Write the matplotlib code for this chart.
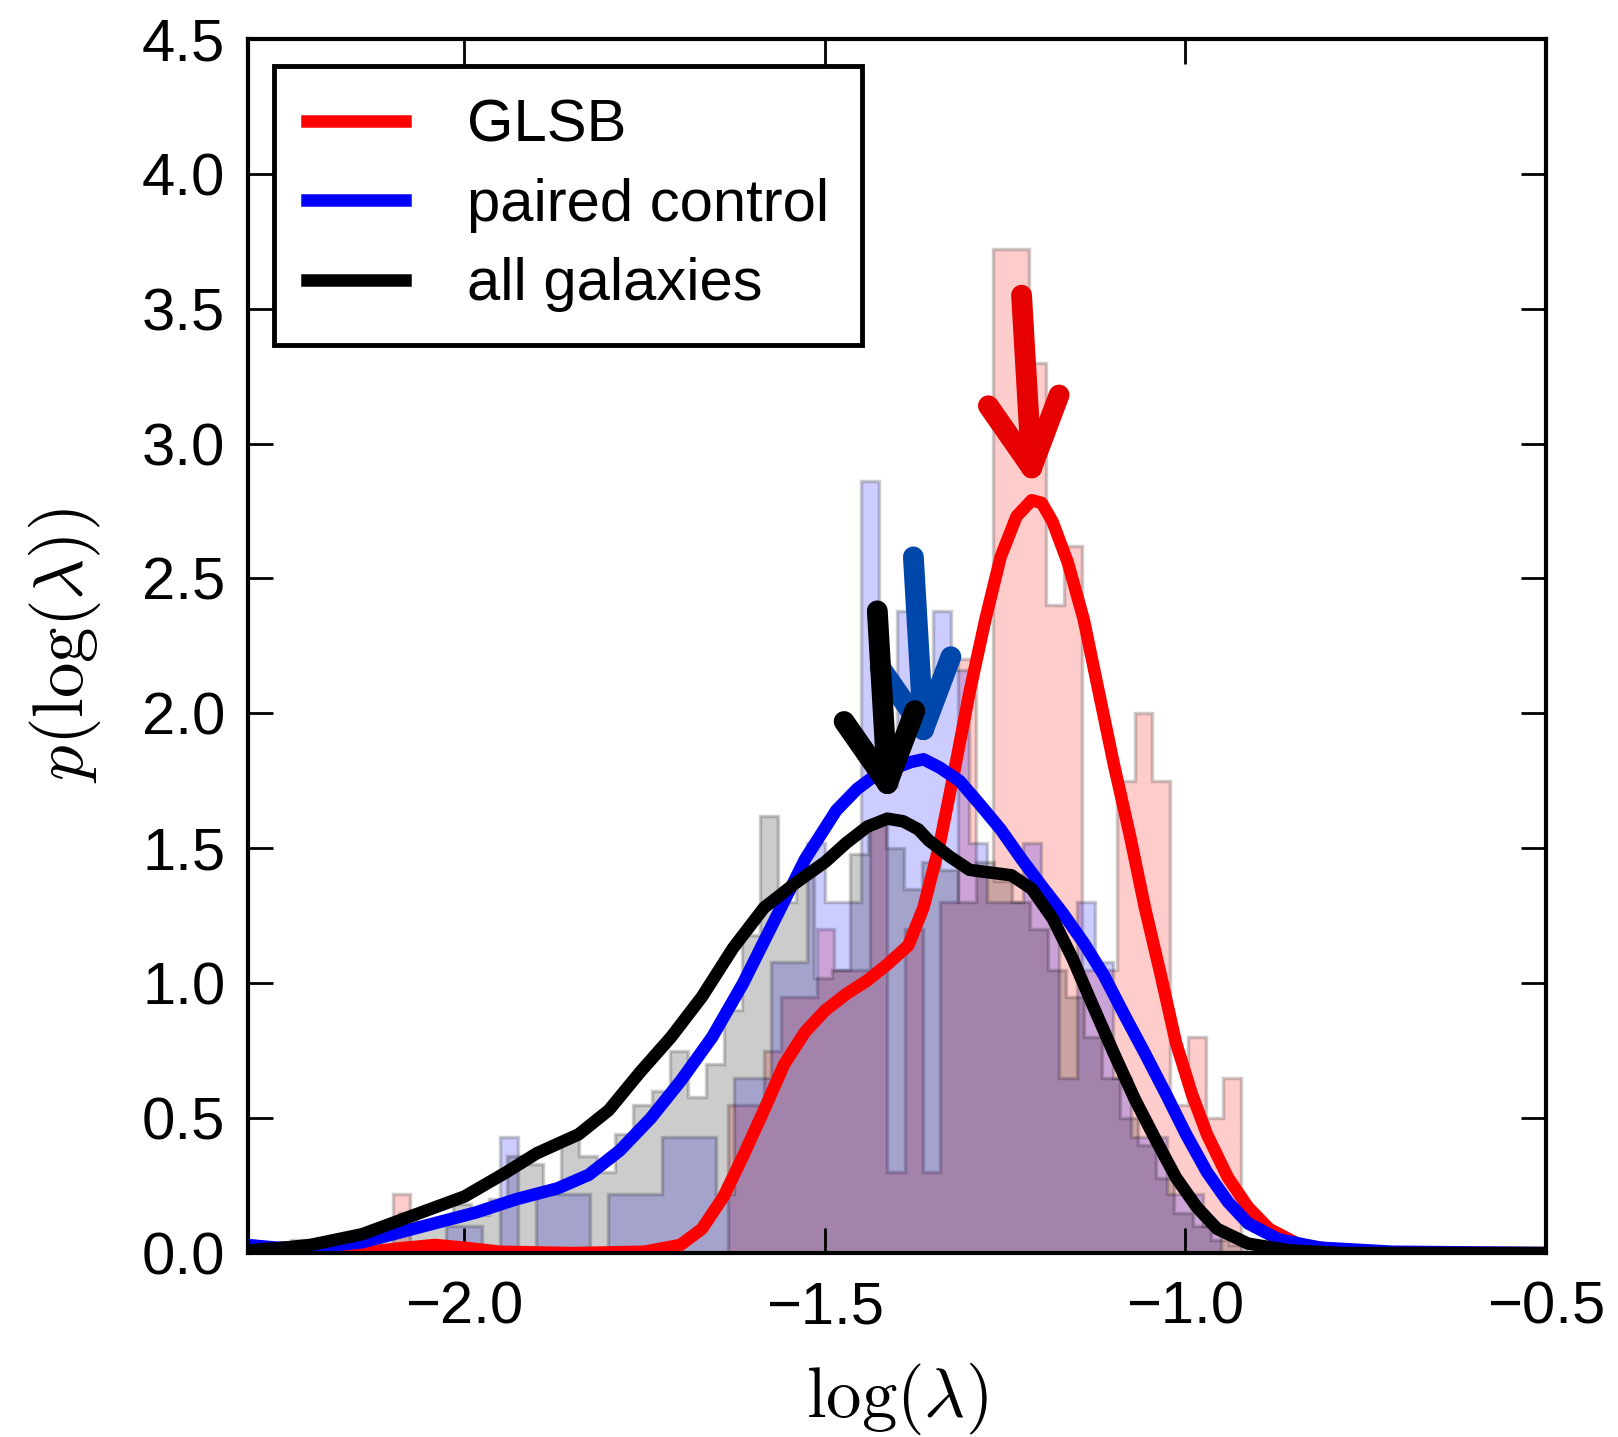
import numpy as np
import matplotlib.pyplot as plt

plt.rcParams['font.family'] = ['Liberation Sans', 'DejaVu Sans']
plt.rcParams['mathtext.fontset'] = 'cm'

# histogram bins, heights
red_start, red_bw = -2.099, 0.0245
red_h = [0.22, 0, 0, 0, 0, 0, 0, 0, 0, 0, 0, 0, 0, 0, 0, 0, 0, 0, 0,
         0.55, 0.55, 0.75, 0.95, 0.95, 1.20, 1.05, 1.05, 1.60, 0.30, 1.20,
         0.30, 1.30, 2.20, 1.40, 3.72, 3.72, 3.30, 2.40, 2.62, 1.05, 1.05,
         1.75, 2.00, 1.75, 0.55, 0.80, 0.50, 0.65]

blue_start, blue_bw = -2.10, 0.025
blue_h = [0, 0, 0, 0.10, 0.10, 0, 0.43, 0, 0.22, 0.22, 0.22, 0, 0.22, 0.22,
          0.22, 0.43, 0.43, 0.43, 0.22, 0.65, 0.65, 1.08, 1.08, 1.52, 1.30,
          1.30, 2.86, 1.73, 2.38, 2.00, 2.38, 2.16, 1.52, 1.30, 1.30, 1.52,
          1.30, 0.65, 1.30, 1.08, 0.65, 0.43, 0.43, 0.22, 0.22, 0.10]

all_start, all_bw = -2.29, 0.025
all_h = [0, 0, 0.05, 0.05, 0.03, 0.06, 0.08, 0.06, 0.15, 0.10, 0.13, 0.18,
         0.14, 0.20, 0.36, 0.33, 0.24, 0.42, 0.36, 0.30, 0.44, 0.55, 0.60,
         0.75, 0.58, 0.70, 0.90, 1.18, 1.62, 1.30, 1.40, 1.02, 1.05, 1.48,
         1.60, 1.50, 1.35, 1.45, 1.42, 1.30, 1.45, 1.38, 1.30, 1.20, 1.05,
         0.95, 0.80, 0.65, 0.50, 0.40, 0.28, 0.15, 0.10, 0.05, 0.03]

# density curves
red_x = [-2.30, -2.15, -2.08, -2.04, -2.00, -1.95, -1.85, -1.75, -1.70, -1.67,
         -1.64, -1.613, -1.584, -1.556, -1.527, -1.499, -1.47, -1.441, -1.413,
         -1.384, -1.363, -1.341, -1.32, -1.299, -1.277, -1.256, -1.234, -1.213,
         -1.199, -1.184, -1.163, -1.141, -1.12, -1.099, -1.077, -1.056, -1.034,
         -1.013, -0.991, -0.97, -0.941, -0.913, -0.884, -0.841, -0.784, -0.70,
         -0.50]
red_y = [0.0, 0.0, 0.02, 0.03, 0.02, 0.005, 0.0, 0.005, 0.03, 0.09, 0.21,
         0.36, 0.53, 0.70, 0.82, 0.90, 0.96, 1.01, 1.07, 1.14, 1.28, 1.51, 1.79,
         2.08, 2.35, 2.58, 2.73, 2.79, 2.78, 2.71, 2.56, 2.35, 2.08, 1.81, 1.55,
         1.28, 1.03, 0.78, 0.59, 0.44, 0.28, 0.17, 0.09, 0.03, 0.01, 0.0, 0.0]

blue_x = [-2.30, -2.26, -2.213, -2.141, -2.07, -2.027, -1.984, -1.927, -1.87,
          -1.827, -1.784, -1.741, -1.699, -1.656, -1.613, -1.57, -1.527,
          -1.484, -1.455, -1.43, -1.40, -1.38, -1.363, -1.341, -1.313, -1.284,
          -1.256, -1.227, -1.199, -1.17, -1.141, -1.113, -1.084, -1.056,
          -1.027, -0.999, -0.97, -0.941, -0.913, -0.87, -0.813, -0.713, -0.50]
blue_y = [0.03, 0.02, 0.02, 0.04, 0.09, 0.12, 0.15, 0.20, 0.24, 0.29, 0.38,
          0.50, 0.64, 0.80, 1.00, 1.23, 1.46, 1.64, 1.72, 1.77, 1.80, 1.82,
          1.83, 1.80, 1.75, 1.66, 1.57, 1.46, 1.36, 1.26, 1.15, 1.03, 0.88,
          0.74, 0.59, 0.44, 0.30, 0.19, 0.11, 0.05, 0.02, 0.005, 0.0]

all_x = [-2.30, -2.25, -2.213, -2.141, -2.07, -1.999, -1.941, -1.899, -1.841,
         -1.799, -1.756, -1.713, -1.67, -1.627, -1.584, -1.541, -1.499, -1.47,
         -1.441, -1.413, -1.391, -1.37, -1.356, -1.327, -1.299, -1.27, -1.241,
         -1.213, -1.184, -1.156, -1.127, -1.099, -1.07, -1.041, -1.013, -0.984,
         -0.956, -0.913, -0.856, -0.78, -0.50]
all_y = [0.01, 0.02, 0.03, 0.07, 0.14, 0.21, 0.30, 0.37, 0.44, 0.53, 0.67,
         0.80, 0.95, 1.13, 1.28, 1.37, 1.45, 1.52, 1.58, 1.61, 1.60, 1.57,
         1.53, 1.47, 1.42, 1.41, 1.40, 1.35, 1.24, 1.09, 0.91, 0.74, 0.57,
         0.42, 0.28, 0.17, 0.09, 0.035, 0.01, 0.0, 0.0]

fig = plt.figure(figsize=(16.18, 14.37), dpi=100)
ax = fig.add_axes([0.153, 0.128, 0.8025, 0.845])


def draw_hist(start, bw, heights, color):
    heights = np.array(heights)
    edges = start + bw * np.arange(len(heights) + 1)
    centers = 0.5 * (edges[:-1] + edges[1:])
    ax.hist(centers, bins=edges, weights=heights, histtype='stepfilled',
            color=color, edgecolor='k', alpha=0.2, lw=2.5)


draw_hist(red_start, red_bw, red_h, 'r')
draw_hist(blue_start, blue_bw, blue_h, 'b')
draw_hist(all_start, all_bw, all_h, 'k')

ax.plot(red_x, red_y, color='r', lw=9, label='GLSB', solid_joinstyle='round')
ax.plot(blue_x, blue_y, color='b', lw=9, label='paired control', solid_joinstyle='round')
ax.plot(all_x, all_y, color='k', lw=9, label='all galaxies', solid_joinstyle='round')


# hand-drawn arrows pointing at each curve's peak
def arrow(xs, ys, color, gap):
    i = int(np.argmax(ys))
    tx, ty = xs[i], ys[i] + gap
    kw = dict(color=color, lw=15, solid_capstyle='round', zorder=5)
    ax.plot([tx - 0.014, tx], [ty + 0.64, ty], **kw)
    ax.plot([tx - 0.06, tx], [ty + 0.23, ty], **kw)
    ax.plot([tx + 0.038, tx], [ty + 0.27, ty], **kw)


arrow(red_x, red_y, '#e60000', 0.12)
arrow(blue_x, blue_y, '#0047ab', 0.11)
arrow(all_x, all_y, 'k', 0.13)

ax.set_xlim(-2.3, -0.5)
ax.set_ylim(0, 4.5)
ax.set_xticks(np.arange(-2.0, -0.49, 0.5))
ax.set_yticks(np.arange(0, 4.51, 0.5))
ax.set_xticklabels(['\u22122.0', '\u22121.5', '\u22121.0', '\u22120.5'])
ax.tick_params(direction='in', length=18, width=2, labelsize=43,
               top=True, right=True)
ax.tick_params(axis='y', pad=16)
ax.tick_params(axis='x', pad=20)
for s in ax.spines.values():
    s.set_linewidth(3)
ax.set_xlabel(r'$\log(\lambda)$', fontsize=51, labelpad=18)
ax.set_ylabel(r'$p(\log(\lambda))$', fontsize=51, labelpad=28)

leg = ax.legend(loc='upper left', fontsize=43, fancybox=False,
                handlelength=1.64, handletextpad=1.04, borderpad=0.55,
                labelspacing=0.41, borderaxespad=0.45, framealpha=1)
leg.get_frame().set_linewidth(3.5)
leg.get_frame().set_edgecolor('k')

fig.savefig('out.png', dpi=100)
